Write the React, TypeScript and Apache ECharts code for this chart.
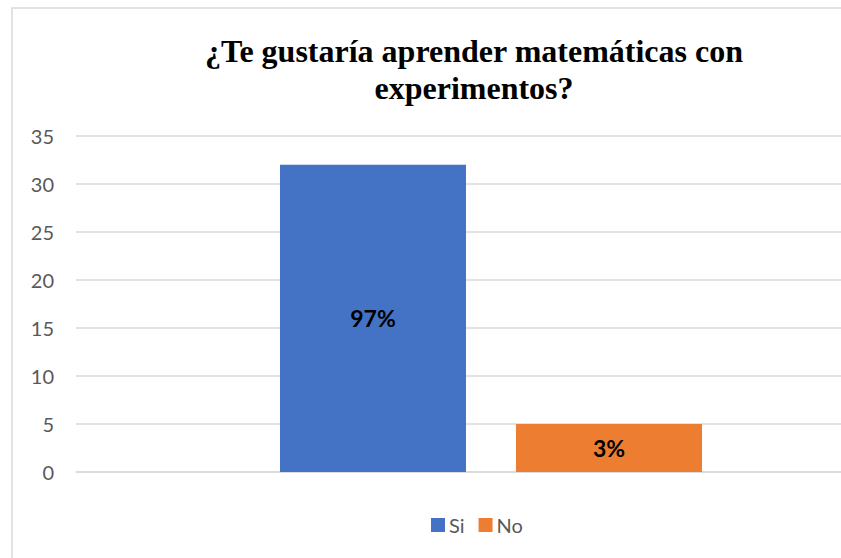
import React, { useEffect, useRef } from "react";
import * as echarts from "echarts";

const categories = [""];
const seriesNames = ["Si", "No"];
const siValues = [32];
const noValues = [5];
const pctLabels = ["97%", "3%"];
const yTicks = { min: 0, max: 35, interval: 5 };
const titleText = "¿Te gustaría aprender matemáticas con\nexperimentos?";

export default function App() {
  const ref = useRef<HTMLDivElement>(null);
  useEffect(() => {
    if (!ref.current) return;
    const chart = echarts.init(ref.current, null, { renderer: "svg" });
    const labelStyle = (txt: string) => ({
      show: true,
      position: "inside" as const,
      formatter: () => txt,
      color: "#000000",
      fontFamily: "Lato",
      fontWeight: "bold" as const,
      fontSize: 23,
    });
    chart.setOption({
      animation: false,
      backgroundColor: "#ffffff",
      title: {
        text: titleText,
        left: 469,
        textAlign: "center",
        top: 27,
        textStyle: {
          fontFamily: "'Liberation Serif', 'Times New Roman', serif",
          fontWeight: "bold",
          fontSize: 32,
          lineHeight: 37,
          color: "#000000",
        },
      },
      graphic: [
        {
          type: "rect",
          shape: { x: 12, y: 8, width: 1000, height: 1000 },
          style: { fill: "none", stroke: "#d9d9d9", lineWidth: 1.5 },
          silent: true,
          z: -1,
        },
      ],
      legend: {
        data: seriesNames,
        left: 426,
        top: 510,
        itemWidth: 14,
        itemHeight: 14,
        itemGap: 14,
        icon: "rect",
        textStyle: { fontFamily: "Lato", fontSize: 20, color: "#595959", padding: [0, 0, 0, -1] },
      },
      grid: { left: 76, right: 24, top: 136, bottom: 128, containLabel: false },
      xAxis: {
        type: "category",
        data: categories,
        axisLine: { show: true, lineStyle: { color: "#d9d9d9", width: 1.5 } },
        axisTick: { show: false },
        axisLabel: { show: false },
      },
      yAxis: {
        type: "value",
        min: yTicks.min,
        max: yTicks.max,
        interval: yTicks.interval,
        axisLine: { show: false },
        axisTick: { show: false },
        axisLabel: { fontFamily: "Lato", fontSize: 20, color: "#595959", margin: 22 },
        splitLine: { lineStyle: { color: "#d9d9d9", width: 1.5 } },
      },
      series: [
        {
          name: seriesNames[0],
          type: "bar",
          data: siValues,
          barWidth: 186,
          barGap: "26.9%",
          itemStyle: { color: "#4472c4" },
          label: labelStyle(pctLabels[0]),
        },
        {
          name: seriesNames[1],
          type: "bar",
          data: noValues,
          barWidth: 186,
          barGap: "26.9%",
          itemStyle: { color: "#ed7d31" },
          label: labelStyle(pctLabels[1]),
        },
      ],
    });
    return () => chart.dispose();
  }, []);
  return (
    <div style={{ position: "fixed", left: 0, top: 0, width: 841, height: 558, overflow: "hidden", background: "#fff" }}>
      <div ref={ref} style={{ width: 930, height: 600 }} />
    </div>
  );
}
